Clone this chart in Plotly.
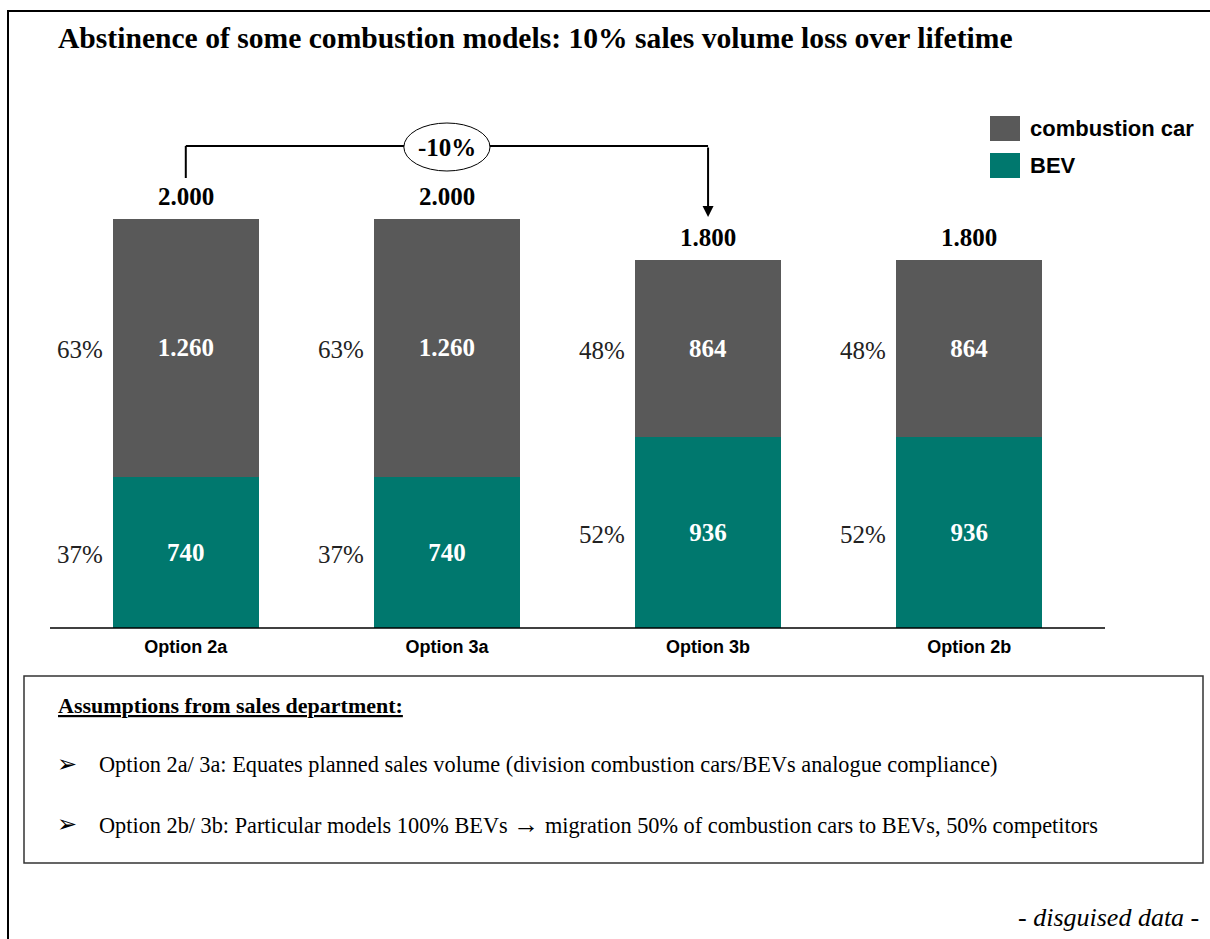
import plotly.graph_objects as go

# ---- data ----
options = ["Option 2a", "Option 3a", "Option 3b", "Option 2b"]
combustion = [1260, 1260, 864, 864]
bev = [740, 740, 936, 936]
series_names = ["combustion car", "BEV"]
notes_title = "Assumptions from sales department:"
notes = [
    "Option 2a/ 3a: Equates planned sales volume (division combustion cars/BEVs analogue compliance)",
    "Option 2b/ 3b: Particular models 100% BEVs <span style='font-size:26px'><b>\u2192</b></span> migration 50% of combustion cars to BEVs, 50% competitors",
]
title = "Abstinence of some combustion models: 10% sales volume loss over lifetime"
change_label = "-10%"

totals = [c + b for c, b in zip(combustion, bev)]

W, H = 1210, 939
GRAY = "#595959"
TEAL = "#00786E"
SERIF = "Liberation Serif, Times New Roman, serif"
SANS = "Liberation Sans, Arial, sans-serif"
BAR_W = 0.56
NUM_SIZE = 25


def px(x):
    return x / W


def py(y):
    return 1 - y / H


def de(n):
    return f"{n:,}".replace(",", ".")


xs = list(range(len(options)))

fig = go.Figure()
for vals, name, col in ((bev, series_names[1], TEAL), (combustion, series_names[0], GRAY)):
    fig.add_bar(
        x=xs, y=vals, name=name, marker=dict(color=col, line=dict(width=0)),
        width=BAR_W, texttemplate="%{y:,}", textposition="inside", insidetextanchor="middle",
        textangle=0, constraintext="none",
        insidetextfont=dict(family=SERIF, size=NUM_SIZE, color="white", weight="bold"),
        hoverinfo="skip",
    )

ann = []
shapes = []

# totals above the stacks
for i, t in enumerate(totals):
    ann.append(dict(x=i, y=t, xref="x", yref="y", text=de(t), showarrow=False,
                    yanchor="bottom", yshift=7,
                    font=dict(family=SERIF, size=NUM_SIZE, color="black", weight="bold")))

# shares to the left of each segment
for i in xs:
    t = totals[i]
    for val, base in ((combustion[i], bev[i]), (bev[i], 0)):
        pct = round(100 * val / t)
        ann.append(dict(x=i - BAR_W / 2, y=base + val / 2, xref="x", yref="y",
                        text=f"{pct}%", showarrow=False, xanchor="right", yanchor="middle",
                        xshift=-8, yshift=-2,
                        font=dict(family=SERIF, size=NUM_SIZE, color="#222222")))

# -10% bracket from the first stack to the third
yb = py(146)
shapes.append(dict(type="line", xref="x", yref="paper", x0=0, x1=0, y0=py(178), y1=yb,
                   line=dict(color="black", width=2)))
shapes.append(dict(type="line", xref="x", yref="paper", x0=0, x1=2, y0=yb, y1=yb,
                   line=dict(color="black", width=2)))
ann.append(dict(x=2, y=py(217), xref="x", yref="paper", ax=0, ay=-71, axref="pixel",
                ayref="pixel", text="", showarrow=True, arrowhead=2, arrowsize=1.1,
                arrowwidth=2, arrowcolor="black"))
shapes.append(dict(type="circle", xref="x", yref="paper", x0=1 - 0.165, x1=1 + 0.165,
                   y0=py(171), y1=py(123), fillcolor="white",
                   line=dict(color="black", width=1)))
ann.append(dict(x=1, y=py(148), xref="x", yref="paper", text=change_label, showarrow=False,
                yanchor="middle",
                font=dict(family=SERIF, size=NUM_SIZE, color="black", weight="bold")))

# baseline
shapes.append(dict(type="line", xref="paper", yref="paper", x0=px(50), x1=px(1105),
                   y0=py(628), y1=py(628), line=dict(color="black", width=1.5)))

# legend
for name, col, yc in ((series_names[0], GRAY, 128.5), (series_names[1], TEAL, 165.5)):
    shapes.append(dict(type="rect", xref="paper", yref="paper", x0=px(990), x1=px(1020),
                       y0=py(yc + 12.5), y1=py(yc - 12.5), fillcolor=col, line=dict(width=0)))
    ann.append(dict(x=px(1028), y=py(yc), xref="paper", yref="paper", text=name,
                    showarrow=False, xanchor="left", yanchor="middle",
                    font=dict(family=SANS, size=22, color="black", weight="bold")))

# title
ann.append(dict(x=px(56), y=py(38), xref="paper", yref="paper", text=title, showarrow=False,
                xanchor="left", yanchor="middle",
                font=dict(family=SERIF, size=29.6, color="black", weight="bold")))

# outer frame
shapes.append(dict(type="rect", xref="paper", yref="paper", x0=px(8), x1=px(1230),
                   y0=py(960), y1=py(11), line=dict(color="black", width=2)))

# assumptions box
shapes.append(dict(type="rect", xref="paper", yref="paper", x0=px(24), x1=px(1203),
                   y0=py(863), y1=py(676), line=dict(color="#333333", width=1.5)))
ann.append(dict(x=px(56), y=py(705), xref="paper", yref="paper",
                text=f"<u>{notes_title}</u>", showarrow=False, xanchor="left", yanchor="middle",
                font=dict(family=SERIF, size=22, color="black", weight="bold")))
for k, note in enumerate(notes):
    yy = py(764 + 60 * k)
    ann.append(dict(x=px(55), y=yy, xref="paper", yref="paper", text="\u27A2",
                    showarrow=False, xanchor="left", yanchor="middle",
                    font=dict(family="DejaVu Sans", size=24, color="black")))
    ann.append(dict(x=px(97), y=yy, xref="paper", yref="paper", text=note,
                    showarrow=False, xanchor="left", yanchor="middle",
                    font=dict(family=SERIF, size=22.3, color="black")))

ann.append(dict(x=px(1201), y=py(917), xref="paper", yref="paper", text="<i>- disguised data -</i>",
                showarrow=False, xanchor="right", yanchor="middle",
                font=dict(family=SERIF, size=26, color="black")))

y_top = (628 - 100) / (409 / 2000)

fig.update_layout(
    width=W, height=H, margin=dict(l=0, r=0, t=0, b=0),
    paper_bgcolor="white", plot_bgcolor="white",
    barmode="stack", showlegend=False, separators=",.",
    xaxis=dict(domain=[px(50), px(1105)], range=[-0.52, 3.52], tickmode="array",
               tickvals=xs, ticktext=options, showgrid=False, zeroline=False,
               showline=False, ticks="", ticklen=0, ticklabelstandoff=6,
               tickfont=dict(family=SANS, size=18, color="black", weight="bold")),
    yaxis=dict(domain=[py(628), py(100)], range=[0, y_top], visible=False,
               showgrid=False, zeroline=False),
    annotations=ann, shapes=shapes,
)

fig.write_html("out.html")
